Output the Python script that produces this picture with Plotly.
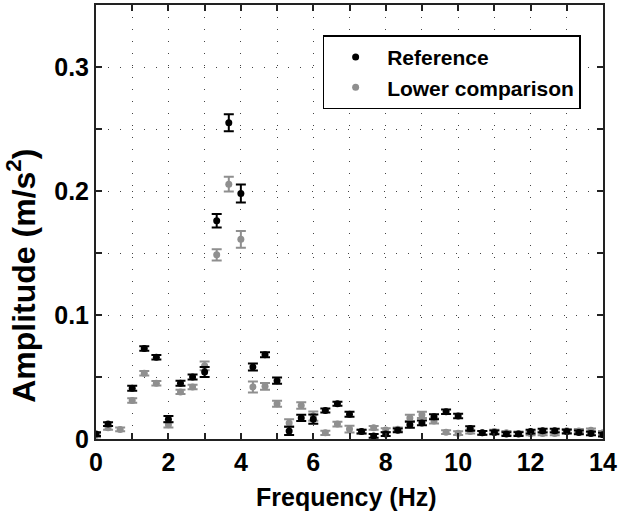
import plotly.graph_objects as go

freq = [0, 0.333, 0.667, 1.0, 1.333, 1.667, 2.0, 2.333, 2.667, 3.0,
        3.333, 3.667, 4.0, 4.333, 4.667, 5.0, 5.333, 5.667, 6.0, 6.333,
        6.667, 7.0, 7.333, 7.667, 8.0, 8.333, 8.667, 9.0, 9.333, 9.667,
        10.0, 10.333, 10.667, 11.0, 11.333, 11.667, 12.0, 12.333, 12.667, 13.0,
        13.333, 13.667, 14.0]

ref_amp = [0.004, 0.012, None, 0.041, 0.073, 0.066, 0.016, 0.045, 0.050, 0.054,
           0.176, 0.255, 0.198, 0.058, 0.068, 0.047, 0.0065, 0.017, 0.016, 0.023,
           0.0285, 0.020, 0.006, 0.0025, 0.004, 0.007, 0.0115, 0.013, 0.018, 0.022,
           0.0185, 0.0085, 0.005, 0.0053, 0.004, 0.004, 0.006, 0.0067, 0.0067, 0.006,
           0.0053, 0.0045, 0.0035]
ref_err = [0.0015, 0.0015, 0.0015, 0.002, 0.0018, 0.0018, 0.0025, 0.002, 0.002, 0.004,
           0.0055, 0.0068, 0.0073, 0.0028, 0.002, 0.0025, 0.0033, 0.0025, 0.0037, 0.0016,
           0.0016, 0.002, 0.0015, 0.0015, 0.0015, 0.0015, 0.0025, 0.002, 0.002, 0.0018,
           0.0018, 0.0018, 0.0015, 0.0015, 0.0015, 0.0015, 0.0015, 0.0015, 0.0015, 0.0015,
           0.0015, 0.0015, 0.0015]

low_amp = [0.003, 0.009, 0.0077, 0.031, 0.053, 0.045, 0.0115, 0.038, 0.042, 0.059,
           0.1485, 0.2055, 0.161, 0.042, 0.0425, 0.0285, 0.013, 0.027, 0.0185, 0.005,
           0.012, 0.008, 0.006, 0.009, 0.0072, 0.0078, 0.017, 0.0195, 0.0145, 0.0055,
           0.0047, 0.006, 0.005, 0.006, 0.005, 0.0045, 0.0045, 0.0045, 0.0045, 0.0066,
           0.0065, 0.007, 0.005]
low_err = [0.0015, 0.0015, 0.0015, 0.0018, 0.0018, 0.0018, 0.0023, 0.0018, 0.0018, 0.0035,
           0.0045, 0.006, 0.0067, 0.0044, 0.0027, 0.0024, 0.003, 0.0027, 0.0037, 0.0017,
           0.002, 0.0027, 0.0015, 0.0015, 0.0015, 0.0015, 0.0025, 0.0025, 0.002, 0.0015,
           0.0015, 0.0015, 0.0015, 0.0015, 0.0015, 0.0015, 0.0015, 0.0015, 0.0015, 0.0015,
           0.0015, 0.0015, 0.0015]

FONT = "Liberation Sans, Arial, sans-serif"
GRAY = "#8f8f8f"

fig = go.Figure()
fig.add_trace(go.Scatter(
    x=freq, y=low_amp, mode="markers", name="Lower comparison",
    marker=dict(color=GRAY, size=7),
    error_y=dict(type="data", array=low_err, visible=True, color=GRAY,
                 thickness=2, width=5),
    legendrank=2,
))
fig.add_trace(go.Scatter(
    x=freq, y=ref_amp, mode="markers", name="Reference",
    marker=dict(color="black", size=7),
    error_y=dict(type="data", array=ref_err, visible=True, color="black",
                 thickness=2, width=5),
    legendrank=1,
))

grid_style = dict(showgrid=True, gridcolor="#444", gridwidth=1, griddash="1px,11px")
axis_common = dict(
    showline=True, linecolor="#222", linewidth=2, mirror="ticks",
    ticks="inside", ticklen=6, tickwidth=1.5, tickcolor="#222",
    zeroline=False,
    tickfont=dict(family=FONT, size=25, color="black", weight="bold"),
    **grid_style,
)

fig.update_xaxes(range=[0, 14], tick0=0, dtick=2,
                 minor=dict(dtick=1, ticks="inside", ticklen=6, tickwidth=1.5,
                            tickcolor="#222", **grid_style),
                 **axis_common)
fig.update_yaxes(range=[0, 0.35], tick0=0, dtick=0.1, tickformat="~g",
                 minor=dict(dtick=0.05, ticks="inside", ticklen=6, tickwidth=1.5,
                            tickcolor="#222", **grid_style),
                 **axis_common)

fig.add_annotation(text="Frequency (Hz)", xref="paper", yref="paper",
                   x=0.495, y=-0.097, xanchor="center", yanchor="top",
                   showarrow=False,
                   font=dict(family=FONT, size=25, color="black", weight="bold"))
fig.add_annotation(text="Amplitude (m/s<sup>2</sup>)", xref="paper", yref="paper",
                   x=-0.148, y=0.376, xanchor="center", yanchor="middle",
                   textangle=-90, showarrow=False,
                   font=dict(family=FONT, size=32, color="black", weight="bold"))

fig.update_layout(
    width=620, height=515,
    margin=dict(l=96, r=16, t=3, b=76),
    paper_bgcolor="white", plot_bgcolor="white",
    showlegend=True,
    legend=dict(x=0.447, y=0.93, xanchor="left", yanchor="top",
                bgcolor="white", bordercolor="black", borderwidth=1.5,
                font=dict(family=FONT, size=21, color="black", weight="bold"),
                itemwidth=53, tracegroupgap=0),
)

fig.write_html("out.html", config={"displayModeBar": False},
               post_script="document.body.style.margin='0px';")
